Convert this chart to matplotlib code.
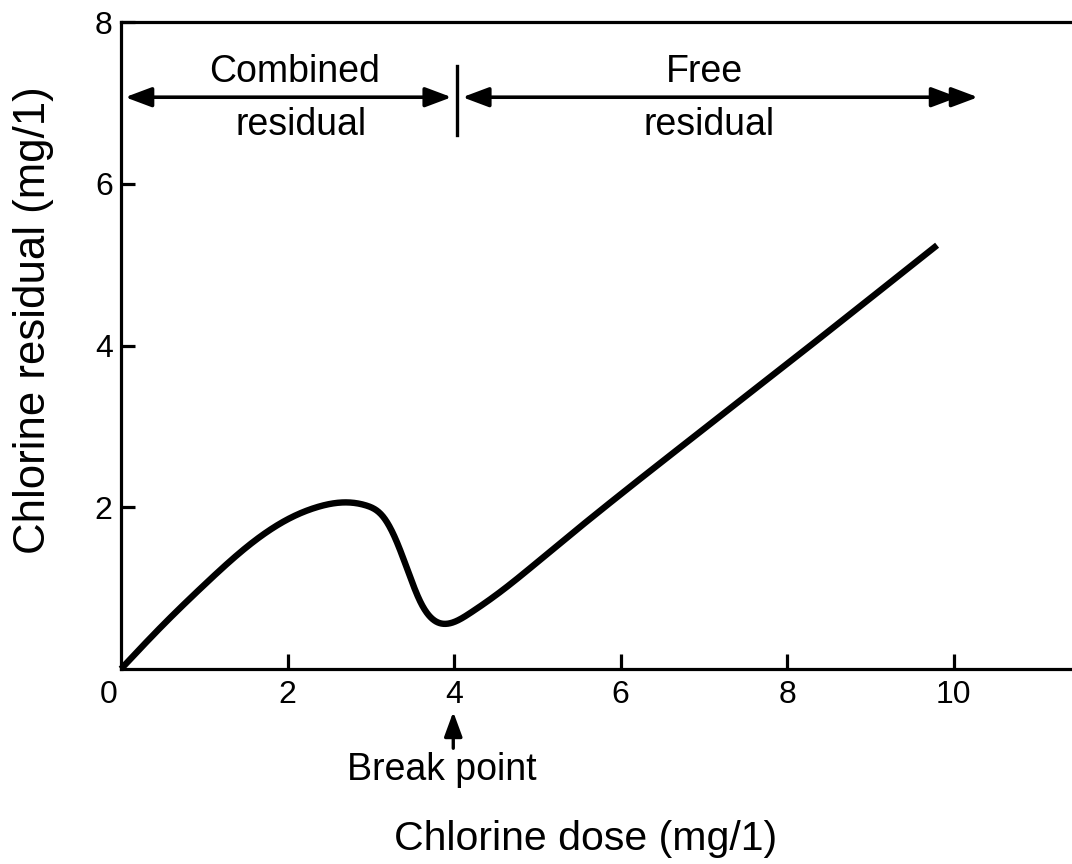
import matplotlib
matplotlib.use("Agg")
import matplotlib.pyplot as plt
import numpy as np

plt.rcParams['font.family'] = ['Liberation Sans', 'DejaVu Sans']

# Data
dose = [0.0, 0.5, 1.0, 1.5, 2.0, 2.35, 2.71, 2.95, 3.15, 3.30, 3.45, 3.60,
        3.75, 3.92, 4.19, 4.55, 5.15, 7.55, 9.80]
residual = [0.0, 0.54, 1.04, 1.50, 1.85, 2.00, 2.06, 2.02, 1.88, 1.60, 1.20, 0.82,
            0.61, 0.56, 0.69, 0.95, 1.45, 3.41, 5.24]

xticks = [2, 4, 6, 8, 10]
yticks = [2, 4, 6, 8]


def natural_spline(xs, ys, n=40):
    """Natural cubic spline (C2-smooth) through the read points."""
    x = np.asarray(xs, float)
    y = np.asarray(ys, float)
    N = len(x)
    h = np.diff(x)
    A = np.zeros((N, N))
    b = np.zeros(N)
    A[0, 0] = 1.0
    A[-1, -1] = 1.0
    for i in range(1, N - 1):
        A[i, i-1] = h[i-1]
        A[i, i] = 2*(h[i-1] + h[i])
        A[i, i+1] = h[i]
        b[i] = 6*((y[i+1] - y[i])/h[i] - (y[i] - y[i-1])/h[i-1])
    M = np.linalg.solve(A, b)
    ox, oy = [], []
    for k in range(N - 1):
        t = np.linspace(0, h[k], n, endpoint=False)
        a = x[k+1] - (x[k] + t)
        c = t
        val = (M[k]*a**3 + M[k+1]*c**3)/(6*h[k]) \
            + (y[k]/h[k] - M[k]*h[k]/6)*a + (y[k+1]/h[k] - M[k+1]*h[k]/6)*c
        ox.append(x[k] + t)
        oy.append(val)
    ox.append([x[-1]])
    oy.append([y[-1]])
    return np.concatenate(ox), np.concatenate(oy)


fig = plt.figure(figsize=(10.72, 8.64), dpi=100)
ax = fig.add_axes([121/1072, (864-669)/864, (1072-121)/1072, (669-22)/864])

cx, cy = natural_spline(dose, residual)
ax.plot(cx, cy, color='black', lw=4.6, solid_capstyle='butt',
        solid_joinstyle='round', clip_on=False)

ax.set_xlim(0, 11.42)
ax.set_ylim(0, 8)
ax.spines['right'].set_visible(False)
for s in ['left', 'top', 'bottom']:
    ax.spines[s].set_linewidth(2.3)

ax.set_xticks(xticks)
ax.set_xticklabels([str(t) for t in xticks])
ax.set_yticks(yticks)
ax.set_yticklabels([str(t) for t in yticks])
ax.tick_params(axis='x', direction='in', length=11, width=2.3, labelsize=23, pad=8)
ax.tick_params(axis='y', direction='in', length=10, width=2.3, labelsize=23, pad=6)
ax.annotate('0', xy=(0, 0), xytext=(-9, -8), textcoords='offset points',
            ha='center', va='top', fontsize=23, annotation_clip=False)

head = 'head_length=1.6,head_width=0.6'
arrow_kw = dict(arrowstyle='<|-|>,' + head, color='black', lw=2.6, shrinkA=0, shrinkB=0)
ax.annotate('', xy=(3.97, 7.07), xytext=(0.05, 7.07), arrowprops=arrow_kw)
ax.annotate('', xy=(10.05, 7.07), xytext=(4.10, 7.07), arrowprops=arrow_kw)
ax.annotate('', xy=(10.29, 7.07), xytext=(9.95, 7.07),
            arrowprops=dict(arrowstyle='-|>,' + head, color='black',
                            lw=2.6, shrinkA=0, shrinkB=0))
ax.plot([4.04, 4.04], [6.60, 7.45], color='black', lw=2.4)

ax.text(2.09, 7.26, 'Combined', ha='center', va='baseline', fontsize=27)
ax.text(2.16, 6.60, 'residual', ha='center', va='baseline', fontsize=27)
ax.text(7.01, 7.26, 'Free', ha='center', va='baseline', fontsize=27)
ax.text(7.06, 6.60, 'residual', ha='center', va='baseline', fontsize=27)

ax.annotate('', xy=(3.99, -0.53), xytext=(3.99, -0.98), annotation_clip=False,
            arrowprops=dict(arrowstyle='-|>,head_length=1.5,head_width=0.55', color='black',
                            lw=2.4, shrinkA=0, shrinkB=0))
ax.text(3.85, -1.37, 'Break point', ha='center', va='baseline', fontsize=27, clip_on=False)

fig.text(586/1072, 1 - 850/864, 'Chlorine dose (mg/1)', ha='center', va='baseline', fontsize=29.5)
fig.text(34/1072, 1 - 320/864, 'Chlorine residual (mg/1)', ha='center', va='center',
         rotation=90, fontsize=31.5)

fig.savefig('out.png', dpi=100)
